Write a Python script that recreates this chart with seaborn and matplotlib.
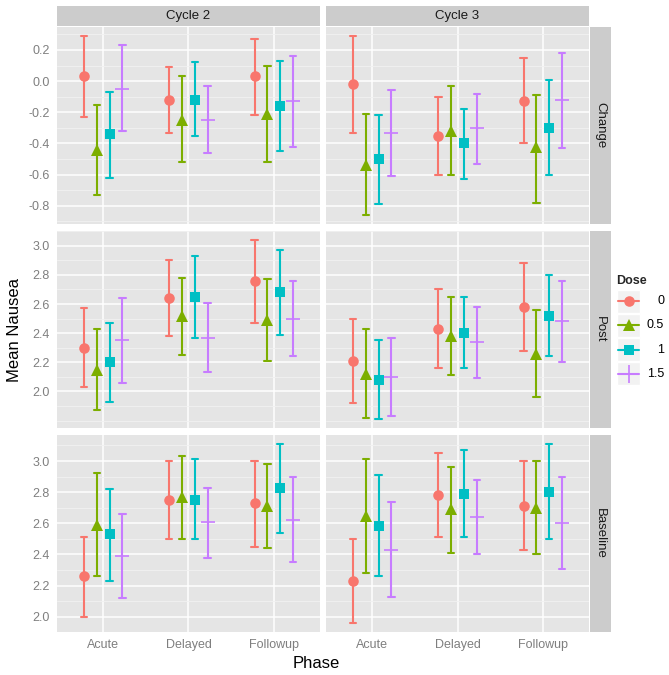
import numpy as np
import pandas as pd
import matplotlib
matplotlib.use("Agg")
import matplotlib.pyplot as plt
import seaborn as sns
from matplotlib.patches import Rectangle
from matplotlib.ticker import MultipleLocator, FixedLocator, FormatStrFormatter

# categories
phases = ["Acute", "Delayed", "Followup"]
doses = ["0", "0.5", "1", "1.5"]
cycles = ["Cycle 2", "Cycle 3"]
measures = ["Change", "Post", "Baseline"]

colors = ["#F8766D", "#7CAE00", "#00BFC4", "#C77CFF"]
markers = ["o", "^", "s", "+"]

# y tick labels per row
change_ticks = [-0.8, -0.6, -0.4, -0.2, 0.0, 0.2]
level_ticks = [2.0, 2.2, 2.4, 2.6, 2.8, 3.0]

# rows = phase (Acute, Delayed, Followup), columns = dose (0, 0.5, 1, 1.5)
change_c2_mean = [[0.03, -0.44, -0.34, -0.05], [-0.12, -0.25, -0.12, -0.25], [0.03, -0.21, -0.16, -0.13]]
change_c2_lo = [[-0.23, -0.73, -0.62, -0.32], [-0.33, -0.52, -0.35, -0.46], [-0.22, -0.52, -0.45, -0.42]]
change_c2_hi = [[0.29, -0.15, -0.07, 0.23], [0.09, 0.03, 0.12, -0.03], [0.27, 0.10, 0.13, 0.16]]

change_c3_mean = [[-0.02, -0.54, -0.50, -0.33], [-0.35, -0.32, -0.40, -0.30], [-0.13, -0.42, -0.30, -0.12]]
change_c3_lo = [[-0.33, -0.86, -0.79, -0.61], [-0.60, -0.60, -0.63, -0.53], [-0.40, -0.78, -0.60, -0.43]]
change_c3_hi = [[0.29, -0.21, -0.22, -0.06], [-0.10, -0.03, -0.18, -0.08], [0.15, -0.09, 0.01, 0.18]]

post_c2_mean = [[2.30, 2.15, 2.20, 2.35], [2.64, 2.52, 2.65, 2.37], [2.76, 2.49, 2.68, 2.50]]
post_c2_lo = [[2.03, 1.87, 1.93, 2.06], [2.38, 2.25, 2.37, 2.13], [2.47, 2.21, 2.39, 2.24]]
post_c2_hi = [[2.57, 2.43, 2.47, 2.64], [2.90, 2.78, 2.93, 2.61], [3.04, 2.77, 2.97, 2.76]]

post_c3_mean = [[2.21, 2.12, 2.08, 2.10], [2.43, 2.38, 2.40, 2.34], [2.58, 2.26, 2.52, 2.48]]
post_c3_lo = [[1.92, 1.82, 1.81, 1.83], [2.16, 2.11, 2.16, 2.09], [2.28, 1.96, 2.24, 2.20]]
post_c3_hi = [[2.50, 2.43, 2.35, 2.37], [2.70, 2.65, 2.65, 2.58], [2.88, 2.56, 2.80, 2.76]]

base_c2_mean = [[2.26, 2.59, 2.53, 2.39], [2.75, 2.77, 2.75, 2.61], [2.73, 2.71, 2.83, 2.62]]
base_c2_lo = [[2.00, 2.26, 2.23, 2.12], [2.50, 2.50, 2.50, 2.38], [2.45, 2.44, 2.54, 2.35]]
base_c2_hi = [[2.51, 2.92, 2.82, 2.66], [3.00, 3.03, 3.01, 2.83], [3.00, 2.98, 3.11, 2.90]]

base_c3_mean = [[2.23, 2.65, 2.58, 2.43], [2.78, 2.69, 2.79, 2.64], [2.71, 2.70, 2.80, 2.60]]
base_c3_lo = [[1.96, 2.28, 2.26, 2.13], [2.51, 2.41, 2.51, 2.40], [2.43, 2.40, 2.50, 2.31]]
base_c3_hi = [[2.50, 3.01, 2.91, 2.74], [3.05, 2.96, 3.07, 2.88], [3.00, 3.00, 3.11, 2.90]]

panels = {
    ("Change", "Cycle 2"): (change_c2_lo, change_c2_mean, change_c2_hi),
    ("Change", "Cycle 3"): (change_c3_lo, change_c3_mean, change_c3_hi),
    ("Post", "Cycle 2"): (post_c2_lo, post_c2_mean, post_c2_hi),
    ("Post", "Cycle 3"): (post_c3_lo, post_c3_mean, post_c3_hi),
    ("Baseline", "Cycle 2"): (base_c2_lo, base_c2_mean, base_c2_hi),
    ("Baseline", "Cycle 3"): (base_c3_lo, base_c3_mean, base_c3_hi),
}
row_ticks = {"Change": change_ticks, "Post": level_ticks, "Baseline": level_ticks}

# long table: lower / mean / upper as three rows per group, so that
# median = mean and the 0-100 percentile interval = the error bar
rows = []
for (measure, cycle), (lo, mid, hi) in panels.items():
    for i, phase in enumerate(phases):
        for j, dose in enumerate(doses):
            for v in (lo[i][j], mid[i][j], hi[i][j]):
                rows.append({"Measure": measure, "Cycle": cycle, "Phase": phase,
                             "Dose": dose, "Nausea": v})
df = pd.DataFrame(rows)

sns.set_style("darkgrid", rc={"axes.facecolor": "#E5E5E5", "grid.color": "white"})
plt.rcParams["font.family"] = ["Liberation Sans", "DejaVu Sans"]
plt.rcParams["axes.unicode_minus"] = False

fig, axes = plt.subplots(3, 2, figsize=(6.69, 6.75), dpi=100, sharey="row")
fig.subplots_adjust(left=57 / 669, right=589 / 669, top=1 - 27 / 675, bottom=1 - 632 / 675,
                    wspace=0.023, hspace=0.035)

marker_sizes = {"o": 7.6, "^": 8.6, "s": 7.2, "+": 9.5}

for r, measure in enumerate(measures):
    for c, cycle in enumerate(cycles):
        ax = axes[r][c]
        sub = df[(df["Measure"] == measure) & (df["Cycle"] == cycle)]
        sns.pointplot(data=sub, x="Phase", y="Nausea", hue="Dose", order=phases,
                      hue_order=doses, palette=colors, markers=markers,
                      linestyles="none", dodge=0.45, estimator="median",
                      errorbar=("pi", 100), capsize=0.075,
                      err_kws={"linewidth": 1.5}, legend=False, ax=ax)
        for ln in ax.lines:
            m = ln.get_marker()
            if m in marker_sizes:
                ln.set_markersize(marker_sizes[m])
                ln.set_markeredgewidth(1.2 if m == "+" else 0)
                if m == "+":
                    ln.set_markeredgecolor(colors[3])

        ax.set_xlim(-0.54, 2.54)
        ax.set_xlabel("")
        ax.set_ylabel("")
        ax.yaxis.set_major_locator(FixedLocator(row_ticks[measure]))
        ax.yaxis.set_minor_locator(MultipleLocator(0.1))
        ax.yaxis.set_major_formatter(FormatStrFormatter("%.1f"))
        ax.grid(which="major", color="white", linewidth=1.1)
        ax.grid(which="minor", axis="y", color="#F2F2F2", linewidth=0.6)
        ax.set_axisbelow(True)
        for s in ax.spines.values():
            s.set_visible(False)
        ax.tick_params(axis="both", which="major", length=3, width=0.8, color="#7F7F7F",
                       labelcolor="#7F7F7F", labelsize=9, pad=2)
        ax.tick_params(axis="y", which="minor", length=0)
        if c == 1:
            ax.tick_params(axis="y", which="major", length=0)
        if r < 2:
            ax.tick_params(axis="x", which="major", length=0, labelbottom=False)

        # facet strips
        if r == 0:
            ax.add_patch(Rectangle((0, 1.003), 1, 20 / 197, transform=ax.transAxes,
                                   facecolor="#CCCCCC", edgecolor="none", clip_on=False))
            ax.text(0.5, 1.003 + 10 / 197, cycle, transform=ax.transAxes, ha="center",
                    va="center", fontsize=9.5, color="#1A1A1A")
        if c == 1:
            ax.add_patch(Rectangle((1.003, 0), 21 / 263, 1, transform=ax.transAxes,
                                   facecolor="#CCCCCC", edgecolor="none", clip_on=False))
            ax.text(1.003 + 10.5 / 263, 0.5, measure, transform=ax.transAxes, ha="center",
                    va="center", rotation=270, fontsize=9.5, color="#1A1A1A")

fig.text(15 / 669, 1 - 330 / 675, "Mean Nausea", rotation=90, ha="center", va="center",
         fontsize=12, color="black")
fig.text(316 / 669, 1 - 663 / 675, "Phase", ha="center", va="center", fontsize=12,
         color="black")

# legend drawn in its own small axes, pixel coordinates
lax = fig.add_axes([610 / 669, 1 - 392 / 675, 59 / 669, 127 / 675])
lax.set_xlim(610, 669)
lax.set_ylim(392, 265)
lax.axis("off")
lax.text(616, 281, "Dose", fontsize=9, fontweight="bold", ha="left", va="center")
for k, dose in enumerate(doses):
    yc = 301 + k * 24.3
    lax.add_patch(Rectangle((617, yc - 11.5), 23, 23, facecolor="#F2F2F2",
                            edgecolor="white", linewidth=1))
    lax.plot([618, 639], [yc, yc], color=colors[k], linewidth=1.5)
    lax.plot([628.5], [yc], marker=markers[k], color=colors[k],
             markersize=marker_sizes[markers[k]] * (1.4 if markers[k] == "+" else 1),
             markeredgewidth=1.2 if markers[k] == "+" else 0, linestyle="none")
    lax.text(664, yc, dose, fontsize=9, ha="right", va="center", color="black")

fig.savefig("out.png", dpi=100)
